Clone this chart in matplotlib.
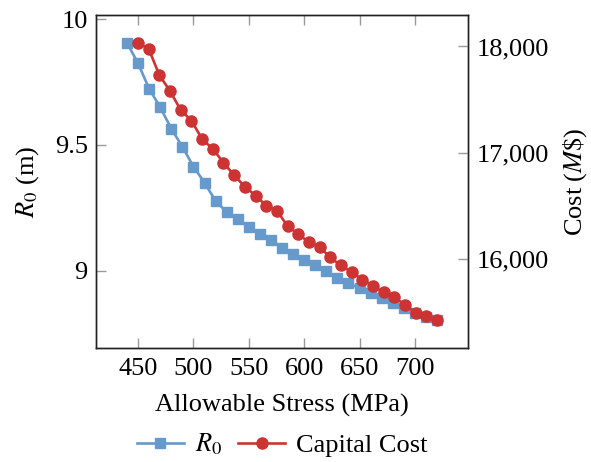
import matplotlib
matplotlib.use("Agg")
import matplotlib.pyplot as plt
from matplotlib.ticker import FuncFormatter, FixedLocator

plt.rcParams['font.family'] = ['Liberation Serif', 'DejaVu Serif']
plt.rcParams['mathtext.fontset'] = 'stix'
plt.rcParams['font.size'] = 19

# allowable stress (MPa) and major radius R0 (m)
stress_r0 = [440, 450, 460, 470, 480, 490, 500, 510, 520, 530, 540, 550, 560, 570, 580,
             590, 600, 610, 620, 630, 640, 650, 660, 670, 680, 690, 700, 710, 720]
r0 = [9.907, 9.825, 9.724, 9.650, 9.565, 9.493, 9.414, 9.350, 9.277, 9.233, 9.204, 9.175,
      9.147, 9.122, 9.090, 9.066, 9.042, 9.021, 8.997, 8.969, 8.949, 8.930, 8.910, 8.889,
      8.869, 8.849, 8.830, 8.813, 8.802]

# allowable stress (MPa) and capital cost (M$)
stress_cost = [450.0, 459.6, 469.3, 478.9, 488.6, 498.2, 507.9, 517.5, 527.1, 536.8,
               546.4, 556.1, 565.7, 575.4, 585.0, 594.6, 604.3, 613.9, 623.6, 633.2,
               642.9, 652.5, 662.1, 671.8, 681.4, 691.1, 700.7, 710.4, 720.0]
cost = [18035, 17978, 17728, 17580, 17399, 17301, 17126, 17035, 16906, 16786,
        16680, 16595, 16501, 16453, 16308, 16233, 16155, 16111, 16012, 15936,
        15875, 15802, 15744, 15683, 15636, 15567, 15489, 15457, 15420]

x_ticks = [450, 500, 550, 600, 650, 700]
r0_ticks = [9, 9.5, 10]
r0_tick_labels = ['9', '9.5', '10']
cost_ticks = [16000, 17000, 18000]

blue = '#6699cc'
red = '#cc3333'
tick_gray = '#9a9a9a'

fig = plt.figure(figsize=(5.91, 4.62), dpi=100)
ax = fig.add_axes([96 / 591, 1 - 348 / 462, (468 - 96) / 591, (348 - 15) / 462])
ax2 = ax.twinx()

l1, = ax.plot(stress_r0, r0, color=blue, lw=1.9, marker='s', ms=7.5, label=r'$R_0$')
l2, = ax2.plot(stress_cost, cost, color=red, lw=1.9, marker='o', ms=8, label='Capital Cost')

ax.margins(x=0.1, y=0.1)
ax2.margins(x=0.1, y=0.1)

ax.xaxis.set_major_locator(FixedLocator(x_ticks))
ax.yaxis.set_major_locator(FixedLocator(r0_ticks))
ax.set_yticklabels(r0_tick_labels)
ax2.yaxis.set_major_locator(FixedLocator(cost_ticks))
ax2.yaxis.set_major_formatter(FuncFormatter(lambda v, p: '{:,.0f}'.format(v)))

ax.tick_params(axis='x', which='both', direction='in', length=7, width=1, color=tick_gray,
               top=True, bottom=True, pad=7)
ax.tick_params(axis='y', direction='in', length=7, width=1, color=tick_gray,
               left=True, right=False, pad=6)
ax2.tick_params(axis='y', direction='in', length=7, width=1, color=tick_gray,
                left=False, right=True, pad=6)

for a in (ax, ax2):
    for s in a.spines.values():
        s.set_linewidth(1.0)
        s.set_color('#222222')

ax.set_xlabel('Allowable Stress (MPa)', labelpad=10)
ax.set_ylabel(r'$R_0$ (m)', labelpad=10)
ax2.set_ylabel(r'Cost ($M\$$)', labelpad=9)

ax.legend(handles=[l1, l2], loc='center', bbox_to_anchor=(0.5, -0.29), ncol=2,
          frameon=False, handlelength=1.8, handletextpad=0.4, columnspacing=0.6)

fig.savefig('out.png', dpi=100)
